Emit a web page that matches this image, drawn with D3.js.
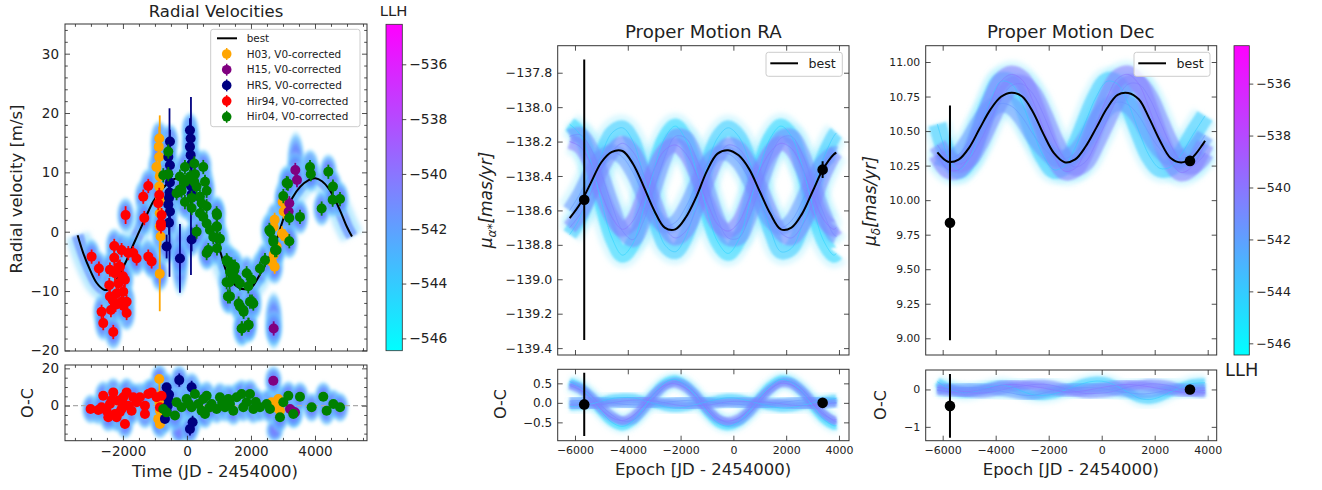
<!DOCTYPE html>
<html><head><meta charset="utf-8">
<script src="https://cdn.jsdelivr.net/npm/d3@7"></script>
<style>body{margin:0;background:#fff}svg{display:block;font-family:"DejaVu Sans",sans-serif}</style>
</head><body><script>
// ================= DATA =================
// Radial velocity best-fit curve (time JD-2454000, m/s)
const RV_BEST_T=[-3416,-3240,-3031,-2823,-2615,-2490,-2302,-2094,-1885,-1677,-1469,-1260,-1052,-800,-550,-300,-90,120,330,530,690,850,1042,1198,1406,1615,1823,2031,2240,2500,2708,2917,3073,3281,3542,3802,4010,4219,4427,4635,4844,5000,5156];
const RV_BEST_V=[-0.6,-3.6,-6.4,-8.6,-9.7,-9.8,-9.0,-7.0,-4.8,-2.2,0.3,2.8,5.1,7.0,8.4,9.0,8.5,7.3,5.3,2.8,0.8,-0.9,-3.4,-6.2,-8.4,-9.4,-9.7,-9.3,-7.6,-5.0,-2.8,0.6,3.1,5.6,7.6,8.7,9.0,8.5,7.3,5.3,2.8,0.8,-0.8];
// datasets: [time, rv, err]
const H03=[[-953,10.9,1.5],[-865,15.7,2],[-880,14.3,1.5],[-870,12.6,1.5],[-850,9.3,1.5],[-865,7.6,1.5],[-845,5.4,1.5],[-850,3.1,16.5],[-850,0.9,1.5],[-823,-0.8,1.5],[-850,-7.1,1.5],
 [2740,2.0,1.2],[2709,0.8,1.2],[3021,3.4,1.2],[2969,-0.3,1.2],[3053,-0.8,1.2],[2709,-3.9,1.2],[2656,-5.1,1.2],[2740,-5.9,1.2],[3073,4.5,1.2],[2990,5.0,1.2],[2800,-2.5,1.2]];
const H15=[[3385,10.4,1.2],[3437,8.7,1.2],[3198,4.8,1.2],[3177,3.4,1.2],[2709,-16.3,1.2]];
const HRS=[[-531,15.2,2],[-583,12.6,2],[-531,11.2,2],[-583,9.7,2],[-531,8.3,2],[-545,6.6,14.2],[-560,5.7,2],[-583,4.6,2],[-531,3.4,2],[-560,1.5,2],[-635,-2.5,2],[-219,-4.5,5.8],
 [94,17.1,2],[115,15.7,2],[94,14.3,2],[115,12.9,2],[146,11.5,2],[125,7.7,15],[146,6.3,2],[146,-1.3,2]];
const HIR94=[[-2979,-4.2,1.2],[-2750,-6.2,1.2],[-2667,-13.5,1.2],[-2615,-15.4,1.2],[-2375,-13.2,1.2],[-2302,-16.9,1.2],[-2271,-2.4,1.2],[-2271,-4.4,1.2],[-2406,-6.4,1.2],[-2427,-9.0,1.2],[-2406,-10.9,1.2],[-2250,-7.0,1.2],[-2146,-8.7,1.2],[-2094,-5.9,1.2],[-2198,-10.4,1.2],[-2042,-11.8,1.2],[-1990,-10.1,1.2],[-1938,-8.1,1.2],[-1885,-11.8,1.2],[-1885,-13.7,1.2],[-1917,2.8,1.5],[-2042,-3.1,1.2],[-1833,-3.6,1.2],[-1677,-3.6,1.2],[-1573,-4.5,1.2],[-1365,5.9,1.2],[-1333,2.3,1.2],[-1208,7.7,1.2],[-1208,-4.2,1.2],[-1104,-5.0,1.2],[-896,4.8,1.2],[-865,6.2,1.2],[-792,2.8,1.2],[-812,1.4,1.2],[-812,0.9,1.2],[-2320,-11.5,1.2],[-2230,-12.3,1.2],[-2150,-6.0,1.2],[-2000,-7.5,1.2],[-1980,-12.5,1.2]];
const HIR04=[[-583,13.5,1.2],[-740,9.5,1.2],[-583,9.7,1.2],[-323,6.5,1.2],[-219,9.3,1.2],[-63,10.9,1.2],[-63,8.4,1.2],[94,9.3,1.2],[229,11.5,1.2],[229,8.4,1.2],[302,7.6,1.2],[406,5.9,1.2],[510,10.9,1.2],[563,8.4,1.2],[615,6.9,1.2],[458,4.8,1.2],[615,4.3,1.2],[406,3.1,1.2],[510,2.5,1.2],[615,1.4,1.2],[719,0.3,1.2],[927,3.1,1.2],[927,0.9,1.2],[823,-0.9,1.2],[1031,-1.2,1.2],[667,-3.1,1.2],[615,-3.6,1.2],[302,0.0,1.2],[146,4.0,1.2],[146,5.7,1.2],[-167,6.9,1.2],[-63,5.0,1.2],[-219,7.1,1.2],[250,9.7,1.2],
 [938,2.8,1.2],[938,0.8,1.2],[963,-1.1,1.2],[938,-2.8,1.2],[1240,-4.8,1.2],[1344,-6.8,1.2],[1240,-8.5,1.2],[1448,-7.6,1.2],[1500,-5.9,1.2],[1656,-8.7,1.2],[1344,-10.9,1.2],[1656,-12.6,1.2],[1760,-13.2,1.2],[1708,-16.3,1.2],[1917,-15.7,1.2],[1969,-11.8,1.2],[2073,-12.1,1.2],[1865,-7.0,1.2],[2021,-8.1,1.2],[1917,-9.2,1.2],[2281,-6.2,1.2],[2438,-4.8,1.2],[2573,0.3,1.2],[2698,-1.4,1.2],[2750,-3.1,1.2],[3010,6.0,1.2],[3115,8.2,1.2],[3198,2.3,1.2],[3198,-1.6,1.2],[3531,2.5,1.2],[3844,10.9,1.2],[3870,9.7,1.2],[4208,3.9,1.2],[4417,10.1,1.2],[4562,7.6,1.2],[4552,5.4,1.2],[4781,5.5,1.2],[3156,8.1,1.2],[2604,0.0,1.2],[2700,-1.7,1.2],[2800,-3.1,1.2],[1250,-5.0,1.2],[1390,-5.5,1.2],[1480,-6.5,1.2],[1550,-8.0,1.2],[1281,-10.9,1.2],[1615,-12.1,1.2],[1771,-13.5,1.2],[1719,-16.3,1.2],[1927,-15.7,1.2],[2031,-11.8,1.2],[1330,-8.5,1.2]];
// O-C residuals: [time, residual, err]
const H03_OC=[[-860,2.0,14.0],[-865,14.3,2],[-844,-2.7,1.5],[-896,-7.1,1.5],[-844,-9.8,1.5],[-870,5.0,1.5],[-850,1.0,1.5],[2646,1.8,1.2],[2750,-0.9,1.2],[2854,3.6,1.2],[2906,-2.7,1.2],[2800,0.0,1.2]];
const H15_OC=[[2698,13.4,1.2],[3375,-3.6,1.2],[3219,-1.8,1.2],[3300,-3.0,1.2]];
const HRS_OC=[[-635,9.8,2],[-583,3.6,2],[-635,-2.7,2],[-688,-7.1,2],[-600,0.0,2],[-560,6.0,2],[-240,13.7,3.5],[146,9.8,3.5],[177,-8.9,3.5],[94,-12.5,3.5]];
const HIR94_OC=[[-3010,-1.8,1.2],[-2771,-2.3,1.2],[-2615,5.3,1.2],[-2510,-2.7,1.2],[-2406,0.9,1.2],[-2302,7.1,1.2],[-2250,-4.5,1.2],[-2146,2.7,1.2],[-2042,-1.8,1.2],[-1990,4.5,1.2],[-1938,-9.8,1.2],[-1885,7.1,1.2],[-1833,0,1.2],[-1729,-2.7,1.2],[-1573,1.8,1.2],[-1469,4.5,1.2],[-1313,-4.5,1.2],[-1208,6.2,1.2],[-1104,7.1,1.2],[-1313,0,1.2],[-948,4.5,1.2],[-844,-0.9,1.2],[-792,5.3,1.2],[-2198,-6.2,1.2],[-2458,-6.2,1.2],[-2667,-0.9,1.2],[-1677,4.5,1.2],[-2350,3.0,1.2],[-2100,-3.5,1.2],[-2000,1.0,1.2]];
const HIR04_OC=[[-740,-1.8,1.2],[-635,-3.6,1.2],[-323,1.8,1.2],[-167,-0.9,1.2],[-10,3.6,1.2],[146,-0.9,1.2],[250,6.2,1.2],[354,0.9,1.2],[458,-2.7,1.2],[563,-4.5,1.2],[615,5.3,1.2],[771,0.9,1.2],[927,-1.8,1.2],[1031,4.5,1.2],[1188,-0.9,1.2],[1344,0.9,1.2],[1448,-2.7,1.2],[1552,4.5,1.2],[1708,6.2,1.2],[1760,-0.9,1.2],[1865,1.8,1.2],[1969,6.2,1.2],[2073,-1.8,1.2],[2281,-0.9,1.2],[2490,0.9,1.2],[2594,-1.8,1.2],[2906,-6.2,1.2],[3010,1.8,1.2],[3167,5.3,1.2],[3323,-4.5,1.2],[3531,4.8,1.2],[3896,-0.9,1.2],[4260,4.8,1.2],[4365,-2.7,1.2],[4573,0.9,1.2],[4781,-0.9,1.2],[-375,-5.3,1.2],[510,3.6,1.2],[1292,3.6,1.2],[60,1.0,1.2],[700,-1.0,1.2],[1100,1.5,1.2],[2150,2.0,1.2]];
// tall posterior halos [time, top, bottom]
const RV_TALL_HALOS=[[2709,-10.5,-19.5],[3400,16.5,7.0],[-219,1.5,-10.5]];
const OC_TALL_HALOS=[[-240,-9.5,-18.5],[2740,-8.5,-18.0]];

// Proper motions: common epoch grid
const EPOCHS=[-6200,-5800,-5400,-5000,-4600,-4200,-3800,-3400,-3000,-2600,-2200,-1800,-1400,-1000,-600,-200,200,600,1000,1400,1800,2200,2600,3000,3400,3800,3900];
const RA_BEST=[-138.645,-138.56,-138.44,-138.32,-138.26,-138.255,-138.33,-138.46,-138.60,-138.70,-138.71,-138.64,-138.52,-138.37,-138.27,-138.25,-138.28,-138.36,-138.49,-138.62,-138.71,-138.70,-138.62,-138.49,-138.36,-138.275,-138.265];
const RA_S1=[-138.70,-138.62,-138.50,-138.36,-138.26,-138.21,-138.26,-138.39,-138.55,-138.70,-138.76,-138.72,-138.59,-138.43,-138.29,-138.22,-138.24,-138.33,-138.46,-138.61,-138.73,-138.76,-138.69,-138.56,-138.40,-138.28,-138.26];
const RA_S2=[-138.60,-138.50,-138.38,-138.29,-138.26,-138.29,-138.38,-138.51,-138.63,-138.69,-138.67,-138.58,-138.45,-138.33,-138.27,-138.27,-138.32,-138.42,-138.55,-138.66,-138.70,-138.66,-138.55,-138.42,-138.32,-138.27,-138.27];
const RA_S3=[-138.20,-138.23,-138.33,-138.50,-138.64,-138.71,-138.66,-138.52,-138.36,-138.25,-138.22,-138.27,-138.39,-138.55,-138.68,-138.72,-138.67,-138.53,-138.37,-138.26,-138.21,-138.24,-138.35,-138.51,-138.65,-138.71,-138.70];
const RA_S4=[-138.17,-138.16,-138.24,-138.39,-138.57,-138.72,-138.77,-138.66,-138.47,-138.29,-138.17,-138.18,-138.30,-138.47,-138.65,-138.76,-138.76,-138.64,-138.46,-138.29,-138.18,-138.17,-138.27,-138.44,-138.61,-138.74,-138.75];
const RA_S5=[-138.74,-138.64,-138.47,-138.28,-138.15,-138.12,-138.20,-138.40,-138.62,-138.80,-138.84,-138.75,-138.56,-138.34,-138.18,-138.12,-138.17,-138.31,-138.51,-138.71,-138.84,-138.82,-138.69,-138.49,-138.30,-138.17,-138.15];
const RA_S6=[-138.10,-138.16,-138.32,-138.55,-138.76,-138.86,-138.79,-138.59,-138.36,-138.18,-138.11,-138.19,-138.37,-138.60,-138.78,-138.85,-138.77,-138.57,-138.35,-138.18,-138.11,-138.17,-138.34,-138.57,-138.77,-138.86,-138.85];
const RA_SAMPLE_LLH=[-540.5,-541.5,-540,-541,-544,-544.5];
const DEC_BEST=[10.345,10.278,10.293,10.38,10.52,10.655,10.748,10.778,10.75,10.64,10.48,10.34,10.275,10.295,10.39,10.525,10.665,10.762,10.776,10.73,10.59,10.43,10.305,10.273,10.305,10.40,10.43];
const DEC_S1=[10.40,10.30,10.26,10.30,10.42,10.58,10.73,10.83,10.84,10.77,10.62,10.44,10.30,10.24,10.28,10.42,10.58,10.74,10.84,10.84,10.74,10.57,10.40,10.28,10.25,10.31,10.34];
const DEC_S2=[10.32,10.30,10.33,10.43,10.56,10.66,10.70,10.68,10.60,10.48,10.38,10.31,10.30,10.34,10.44,10.57,10.67,10.71,10.69,10.61,10.48,10.37,10.31,10.30,10.34,10.44,10.47];
const DEC_S3=[10.33,10.22,10.22,10.32,10.50,10.70,10.86,10.91,10.87,10.72,10.52,10.32,10.21,10.23,10.36,10.55,10.74,10.88,10.91,10.84,10.66,10.45,10.28,10.20,10.24,10.37,10.41];
const DEC_S4=[10.55,10.32,10.22,10.30,10.50,10.72,10.86,10.84,10.70,10.50,10.32,10.22,10.25,10.38,10.57,10.75,10.86,10.84,10.70,10.50,10.32,10.23,10.24,10.33,10.46,10.58,10.61];
const DEC_SAMPLE_LLH=[-540.5,-541.5,-540,-544];
// observations [epoch, value, err]
const RA_OBS=[[-5650,-138.538,0.815],[3381,-138.363,0.048]];
const RA_OBS_OC=[[-5650,-0.04,0.81],[3381,0.0,0.048]];
const DEC_OBS=[[-5725,9.836,0.85],[3332,10.284,0.03]];
const DEC_OBS_OC=[[-5725,-0.44,0.85],[3332,0.0,0.03]];
// ticks
const RV_Y_TICKS=[-20,-10,0,10,20,30];
const RV_X_TICKS=[-2000,0,2000,4000];
const RV_OC_Y_TICKS=[0,20];
const RA_Y_TICKS=[-139.4,-139.2,-139.0,-138.8,-138.6,-138.4,-138.2,-138.0,-137.8];
const RA_OC_Y_TICKS=[-0.5,0,0.5];
const DEC_Y_TICKS=[9.0,9.25,9.5,9.75,10.0,10.25,10.5,10.75,11.0];
const DEC_OC_Y_TICKS=[-1,0];
const PM_X_TICKS=[-6000,-4000,-2000,0,2000,4000];
const LLH_TICKS=[-546,-544,-542,-540,-538,-536];
const LLH_DOMAIN=[-546.45,-534.54];

// ================= RENDER =================
const W=1322,H=490;
const svg=d3.select('body').append('svg').attr('width',W).attr('height',H);
const defs=svg.append('defs');
const FONT='DejaVu Sans';
const cool=v=>{const t=Math.max(0,Math.min(1,(v-LLH_DOMAIN[0])/(LLH_DOMAIN[1]-LLH_DOMAIN[0])));return d3.rgb(255*t,255*(1-t),255).formatHex();};

function blur(id,sd){defs.append('filter').attr('id',id).attr('x','-50%').attr('y','-50%').attr('width','200%').attr('height','200%')
  .append('feGaussianBlur').attr('stdDeviation',sd);}
blur('b1',1.2);blur('b2',2.5);blur('bh',1.6);
const rg=defs.append('radialGradient').attr('id','haloGrad');
[[0,'rgb(125,118,255)',1],[0.5,'rgb(100,140,255)',0.95],[0.78,'rgb(100,190,255)',0.75],[1,'rgb(160,238,255)',0.05]].forEach(s=>
  rg.append('stop').attr('offset',s[0]).attr('stop-color',s[1]).attr('stop-opacity',s[2]));
const lg=defs.append('linearGradient').attr('id','cbGrad').attr('x1',0).attr('y1',1).attr('x2',0).attr('y2',0);
d3.range(0,1.0001,0.1).forEach(t=>lg.append('stop').attr('offset',t).attr('stop-color',cool(LLH_DOMAIN[0]+t*(LLH_DOMAIN[1]-LLH_DOMAIN[0]))));

let clipN=0;
function clipped(x,y){const id='c'+(clipN++);const [x0,x1]=x.range(),[y1,y0]=y.range();
  defs.append('clipPath').attr('id',id).append('rect').attr('x',x0).attr('y',y0).attr('width',x1-x0).attr('height',y1-y0);
  return svg.append('g').attr('clip-path',`url(#${id})`);}

function styleAxis(gg,fs){gg.select('.domain').remove();
  gg.selectAll('line').attr('stroke','#222').attr('stroke-width',0.8);
  gg.selectAll('text').attr('font-size',fs).attr('fill','#222').style('font-family',FONT);}

function axes(x,y,o){
  const [x0,x1]=x.range(),[y1,y0]=y.range();
  const g=svg.append('g');
  const M=5,m=2.8;
  const add=(fn,sc,vals,size,fmt,fs,tr,pad)=>{if(!vals)return;
    const a=fn(sc).tickValues(vals).tickSize(-size).tickPadding(pad||6).tickFormat(fmt||(()=>''));
    styleAxis(g.append('g').attr('transform',tr).call(a),fs);};
  add(d3.axisBottom,x,o.xMajor,M,o.xLabels?d3.format(o.xFmt||'d'):null,o.fsX,`translate(0,${y1})`,o.xPad||5.5);
  add(d3.axisTop,x,o.xMajor,M,null,10,`translate(0,${y0})`);
  add(d3.axisBottom,x,o.xMinor,m,null,10,`translate(0,${y1})`);
  add(d3.axisTop,x,o.xMinor,m,null,10,`translate(0,${y0})`);
  add(d3.axisLeft,y,o.yMajor,M,d3.format(o.yFmt),o.fsY,`translate(${x0},0)`,o.yPad||6);
  add(d3.axisRight,y,o.yMajor,M,null,10,`translate(${x1},0)`);
  add(d3.axisLeft,y,o.yMinor,m,null,10,`translate(${x0},0)`);
  add(d3.axisRight,y,o.yMinor,m,null,10,`translate(${x1},0)`);
  g.append('rect').attr('x',x0).attr('y',y0).attr('width',x1-x0).attr('height',y1-y0).attr('fill','none').attr('stroke','#333').attr('stroke-width',1);
}
function text(x,y,s,fs,opt={}){const t=svg.append('text').attr('x',x).attr('y',y).text(s).attr('font-size',fs).attr('fill','#222')
  .attr('text-anchor',opt.anchor||'middle').style('font-family',FONT);
  if(opt.rot)t.attr('transform',`rotate(-90,${x},${y})`);if(opt.italic)t.attr('font-style','italic');return t;}

function colorbar(x0,x1,y0,y1,fs){
  svg.append('rect').attr('x',x0).attr('y',y0).attr('width',x1-x0).attr('height',y1-y0).attr('fill','url(#cbGrad)').attr('stroke','#333').attr('stroke-width',0.8);
  const s=d3.scaleLinear(LLH_DOMAIN,[y1,y0]);
  const gg=svg.append('g').attr('transform',`translate(${x1},0)`).call(d3.axisRight(s).tickValues(LLH_TICKS).tickSize(4).tickPadding(3).tickFormat(d3.format('d')));
  styleAxis(gg,fs);
}
const line=(x,y)=>d3.line().x(d=>x(d[0])).y(d=>y(d[1])).curve(d3.curveCatmullRom.alpha(0.5));

// ---------------- RV panel ----------------
const xRV=d3.scaleLinear([-3810,5625],[65,367]);
const yRV=d3.scaleLinear([-20.1,35.0],[351,24]);
const yRVoc=d3.scaleLinear([-18.8,21.8],[440.7,365]);
const RV_SETS=[
 {name:'H03, V0-corrected',color:'orange',data:H03,oc:H03_OC},
 {name:'H15, V0-corrected',color:'purple',data:H15,oc:H15_OC},
 {name:'HRS, V0-corrected',color:'navy',data:HRS,oc:HRS_OC},
 {name:'Hir94, V0-corrected',color:'red',data:HIR94,oc:HIR94_OC},
 {name:'Hir04, V0-corrected',color:'green',data:HIR04,oc:HIR04_OC}];
const bestRV=RV_BEST_T.map((t,i)=>[t,RV_BEST_V[i]]);

function rvPanel(y,key,tall,rx,ry,bw){
  const g=clipped(xRV,y);
  const model=key==='data'?bestRV:RV_BEST_T.map(t=>[t,0]);
  g.append('path').attr('d',line(xRV,y)(model)).attr('fill','none').attr('stroke','rgb(140,220,255)').attr('stroke-opacity',0.6).attr('stroke-width',bw[0]).attr('filter','url(#b2)');
  g.append('path').attr('d',line(xRV,y)(model)).attr('fill','none').attr('stroke','rgb(105,145,255)').attr('stroke-opacity',0.7).attr('stroke-width',bw[1]).attr('filter','url(#b1)');
  const hg=g.append('g').attr('filter','url(#bh)');
  tall.forEach(d=>hg.append('ellipse').attr('cx',xRV(d[0])).attr('cy',(y(d[1])+y(d[2]))/2).attr('rx',rx).attr('ry',Math.abs(y(d[1])-y(d[2]))/2+4).attr('fill','url(#haloGrad)'));
  RV_SETS.forEach(s=>s[key].forEach(d=>hg.append('ellipse').attr('cx',xRV(d[0])).attr('cy',y(d[1])).attr('rx',rx).attr('ry',ry).attr('fill','url(#haloGrad)')));
  if(key==='data') g.append('path').attr('d',line(xRV,y)(bestRV)).attr('fill','none').attr('stroke','#000').attr('stroke-width',2);
  else g.append('line').attr('x1',xRV.range()[0]).attr('x2',xRV.range()[1]).attr('y1',y(0)).attr('y2',y(0)).attr('stroke','#aaa').attr('stroke-width',1.3).attr('stroke-dasharray','5,3');
  RV_SETS.forEach(s=>{
    const sg=g.append('g');
    s[key].forEach(d=>sg.append('line').attr('x1',xRV(d[0])).attr('x2',xRV(d[0])).attr('y1',y(d[1]-d[2])).attr('y2',y(d[1]+d[2])).attr('stroke',s.color).attr('stroke-width',1.8));
    s[key].forEach(d=>sg.append('circle').attr('cx',xRV(d[0])).attr('cy',y(d[1])).attr('r',5).attr('fill',s.color));
  });
}
rvPanel(yRV,'data',RV_TALL_HALOS,9.5,19,[24,12]);
rvPanel(yRVoc,'oc',OC_TALL_HALOS,9.5,16,[34,20]);
axes(xRV,yRV,{xMajor:RV_X_TICKS,xMinor:d3.range(-3500,5501,500).filter(v=>v%2000!==0),yMajor:RV_Y_TICKS,yMinor:d3.range(-18,35,2).filter(v=>v%10!==0),yFmt:'d',fsY:13.5});
axes(xRV,yRVoc,{xMajor:RV_X_TICKS,xMinor:d3.range(-3500,5501,500).filter(v=>v%2000!==0),xLabels:true,fsX:13.5,yMajor:RV_OC_Y_TICKS,yMinor:[-15,-10,-5,5,10,15],yFmt:'d',fsY:13.5});
// legend
{const lx0=210.7,ly0=29.3;
 svg.append('rect').attr('x',lx0).attr('y',ly0).attr('width',149.3).attr('height',97.4).attr('rx',2.5).attr('fill','#fff').attr('fill-opacity',0.8).attr('stroke','#ccc');
 const rows=[{name:'best'}].concat(RV_SETS);
 rows.forEach((r,i)=>{const yy=38.3+i*15.7;
   if(!r.color) svg.append('line').attr('x1',217).attr('x2',237).attr('y1',yy).attr('y2',yy).attr('stroke','#000').attr('stroke-width',2);
   else {svg.append('line').attr('x1',226.7).attr('x2',226.7).attr('y1',yy-6).attr('y2',yy+6).attr('stroke',r.color).attr('stroke-width',1.5);
     svg.append('circle').attr('cx',226.7).attr('cy',yy).attr('r',4.8).attr('fill',r.color);}
   text(246.7,yy+3.6,r.name,10.4,{anchor:'start'});});}
text(216,16.5,'Radial Velocities',16.5);
text(22,189,'Radial velocity [m/s]',16.5,{rot:true});
text(33,403,'O-C',16,{rot:true});
text(215,477,'Time (JD - 2454000)',16.5);
colorbar(386,402.3,24.3,350.7,13.8);
text(393.5,16,'LLH',14.8);

// ---------------- PM panels ----------------
function pmPanel(o){
  const g=clipped(o.x,o.y), go=clipped(o.x,o.yoc);
  const best=EPOCHS.map((e,i)=>[e,o.best[i]]);
  const layers=[['rgb(150,235,255)',0.35,o.w[0],'b2'],[null,0.55,o.w[1],'b1'],[null,0.7,0.8,null]];
  const layersOC=[['rgb(150,235,255)',0.35,o.w[2],'b2'],[null,0.55,o.w[3],'b1'],[null,0.7,0.8,null]];
  [[g,o.y,layers,false],[go,o.yoc,layersOC,true]].forEach(([gg,ys,L,oc])=>{
    L.forEach(([col,op,w,f])=>o.samples.forEach((s,k)=>{
      const pts=EPOCHS.map((e,i)=>[e,oc?s[i]-o.best[i]:s[i]]);
      const p=gg.append('path').attr('d',line(o.x,ys)(pts)).attr('fill','none').attr('stroke',col||cool(o.llh[k])).attr('stroke-opacity',op).attr('stroke-width',w);
      if(f)p.attr('filter',`url(#${f})`);}));
  });
  g.append('path').attr('d',line(o.x,o.y)(best)).attr('fill','none').attr('stroke','#000').attr('stroke-width',2);
  [[g,o.y,o.obs],[go,o.yoc,o.obsoc]].forEach(([gg,ys,obs])=>obs.forEach(d=>{
    gg.append('line').attr('x1',o.x(d[0])).attr('x2',o.x(d[0])).attr('y1',ys(d[1]-d[2])).attr('y2',ys(d[1]+d[2])).attr('stroke','#000').attr('stroke-width',2);
    gg.append('circle').attr('cx',o.x(d[0])).attr('cy',ys(d[1])).attr('r',5.3).attr('fill','#000');}));
  axes(o.x,o.y,{xMajor:PM_X_TICKS,yMajor:o.yTicks,yFmt:o.yFmt,fsY:o.fsY,yPad:5.5});
  axes(o.x,o.yoc,{xMajor:PM_X_TICKS,xLabels:true,fsX:11,yMajor:o.ocTicks,yFmt:o.ocFmt,fsY:o.fsOC,yPad:5.5});
  const [lx,ly,lw]=o.leg;
  svg.append('rect').attr('x',lx).attr('y',ly).attr('width',lw).attr('height',24).attr('rx',2.5).attr('fill','#fff').attr('fill-opacity',0.8).attr('stroke','#ccc');
  svg.append('line').attr('x1',lx+4.3).attr('x2',lx+32).attr('y1',ly+11).attr('y2',ly+11).attr('stroke','#000').attr('stroke-width',2);
  text(lx+42.5,ly+15.5,'best',12.6,{anchor:'start'});
}
const xRA=d3.scaleLinear([-6655,4380],[557.7,849]);
pmPanel({x:xRA,y:d3.scaleLinear([-139.44,-137.643],[355,45.7]),yoc:d3.scaleLinear([-0.97,0.86],[440.7,369.3]),
  best:RA_BEST,samples:[RA_S5,RA_S6,RA_S1,RA_S2,RA_S3,RA_S4],llh:[RA_SAMPLE_LLH[4],RA_SAMPLE_LLH[5],RA_SAMPLE_LLH[0],RA_SAMPLE_LLH[1],RA_SAMPLE_LLH[2],RA_SAMPLE_LLH[3]],w:[26,15,14,8],
  obs:RA_OBS,obsoc:RA_OBS_OC,yTicks:RA_Y_TICKS,yFmt:'.1f',fsY:12.6,ocTicks:RA_OC_Y_TICKS,ocFmt:'.1f',fsOC:12,leg:[766,52.3,76.3]});
const xDec=d3.scaleLinear([-6641,4340],[925.7,1216.7]);
pmPanel({x:xDec,y:d3.scaleLinear([8.879,11.118],[355,45.7]),yoc:d3.scaleLinear([-1.37,0.52],[440.7,370]),
  best:DEC_BEST,samples:[DEC_S4,DEC_S3,DEC_S1,DEC_S2],llh:[DEC_SAMPLE_LLH[3],DEC_SAMPLE_LLH[2],DEC_SAMPLE_LLH[0],DEC_SAMPLE_LLH[1]],w:[28,18,16,9],
  obs:DEC_OBS,obsoc:DEC_OBS_OC,yTicks:DEC_Y_TICKS,yFmt:'.2f',fsY:10.8,ocTicks:DEC_OC_Y_TICKS,ocFmt:'d',fsOC:11,leg:[1134,52.3,76]});
text(703.3,38,'Proper Motion RA',18.2);
text(1070.7,38,'Proper Motion Dec',18.2);
text(703,475,'Epoch [JD - 2454000)',16.5);
text(1070.8,475,'Epoch [JD - 2454000)',16.5);
text(506,404,'O-C',16,{rot:true});
text(886,405,'O-C',16,{rot:true});
function mathLabel(x,y,sub){const t=svg.append('text').attr('x',x).attr('y',y).attr('font-size',17).attr('fill','#222').attr('text-anchor','middle')
  .attr('transform',`rotate(-90,${x},${y})`).style('font-family',FONT).attr('font-style','italic');
  t.append('tspan').text('μ');t.append('tspan').attr('font-size',12).attr('dy',4).text(sub);
  t.append('tspan').attr('dy',-4).text('[mas/yr]');}
mathLabel(492,200,'α*');
mathLabel(876,201,'δ');
colorbar(1234,1249.3,45.7,355,12.6);
text(1241.7,376,'LLH',17.8);
</script></body></html>
